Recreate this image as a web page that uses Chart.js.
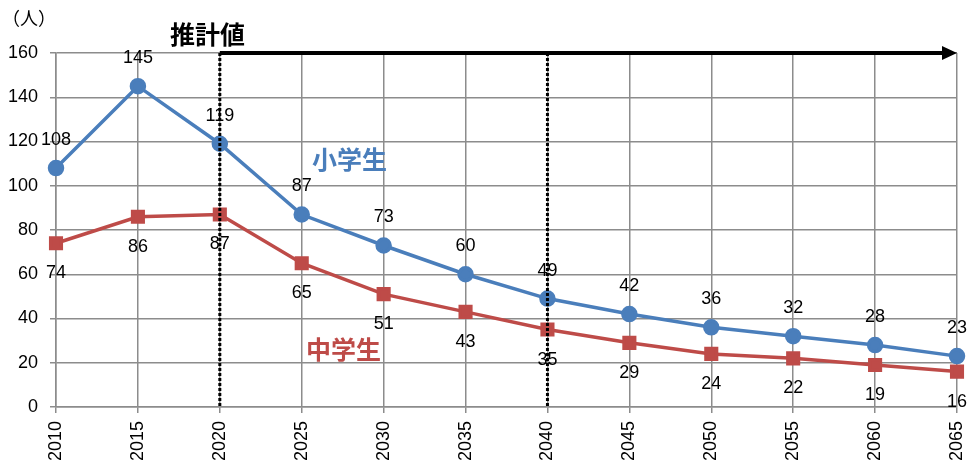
<!DOCTYPE html>
<html>
<head>
<meta charset="utf-8">
<script src="https://cdn.jsdelivr.net/npm/chart.js@4/dist/chart.umd.min.js"></script>
<style>
  html, body { margin: 0; padding: 0; background: #fff; }
  #wrap { width: 970px; height: 466px; position: relative; }
</style>
</head>
<body>
<div id="wrap"><canvas id="chart" width="970" height="466"></canvas></div>
<script>
const years = ['2010', '2015', '2020', '2025', '2030', '2035', '2040', '2045', '2050', '2055', '2060', '2065'];
const elementary = [108, 145, 119, 87, 73, 60, 49, 42, 36, 32, 28, 23];
const juniorHigh = [74, 86, 87, 65, 51, 43, 35, 29, 24, 22, 19, 16];
const yTicks = [0, 20, 40, 60, 80, 100, 120, 140, 160];
const dottedYears = ['2020', '2040'];

const colors = {
  blue: '#4A7EBB',
  red: '#BE4B48',
  grid: '#8C8C8C',
  text: '#000000'
};

const baseFont = '"Liberation Sans", "Noto Sans", sans-serif';
const jpFont = '"Noto Sans CJK JP", "Noto Sans", sans-serif';

// value labels next to every point
const valueLabels = {
  id: 'valueLabels',
  afterDatasetsDraw(chart) {
    const ctx = chart.ctx;
    ctx.save();
    ctx.font = '18px ' + baseFont;
    ctx.fillStyle = colors.text;
    ctx.textAlign = 'center';
    ctx.textBaseline = 'middle';
    chart.data.datasets.forEach((ds, i) => {
      const meta = chart.getDatasetMeta(i);
      const dy = ds.labelOffset;
      meta.data.forEach((pt, j) => {
        ctx.fillText(String(ds.data[j]), pt.x, pt.y + dy);
      });
    });
    ctx.restore();
  }
};

// dotted year markers, arrow and texts
const overlay = {
  id: 'overlay',
  afterDraw(chart) {
    const ctx = chart.ctx;
    const area = chart.chartArea;
    const x = chart.scales.x;
    ctx.save();

    ctx.strokeStyle = '#000';
    ctx.lineWidth = 3;
    ctx.setLineDash([3, 2]);
    dottedYears.forEach(yr => {
      const px = x.getPixelForValue(years.indexOf(yr));
      ctx.beginPath();
      ctx.moveTo(px, area.top);
      ctx.lineTo(px, area.bottom);
      ctx.stroke();
    });
    ctx.setLineDash([]);

    // arrow for projected values
    const startX = x.getPixelForValue(years.indexOf('2020'));
    const endX = area.right;
    ctx.lineWidth = 4;
    ctx.beginPath();
    ctx.moveTo(startX, area.top);
    ctx.lineTo(endX - 12, area.top);
    ctx.stroke();
    ctx.fillStyle = '#000';
    ctx.beginPath();
    ctx.moveTo(endX, area.top);
    ctx.lineTo(endX - 15, area.top - 7);
    ctx.lineTo(endX - 15, area.top + 7);
    ctx.closePath();
    ctx.fill();

    ctx.textBaseline = 'middle';
    ctx.textAlign = 'left';
    ctx.font = 'bold 25px ' + jpFont;
    ctx.fillText('推計値', 170, 34);

    ctx.font = '18px ' + jpFont;
    ctx.fillText('（人）', 2, 18);

    ctx.font = 'bold 25px ' + jpFont;
    ctx.fillStyle = colors.blue;
    ctx.fillText('小学生', 312, 159);
    ctx.fillStyle = colors.red;
    ctx.fillText('中学生', 306, 349);

    ctx.restore();
  }
};

new Chart(document.getElementById('chart'), {
  type: 'line',
  data: {
    labels: years,
    datasets: [
      {
        label: '小学生',
        data: elementary,
        borderColor: colors.blue,
        backgroundColor: colors.blue,
        borderWidth: 3.5,
        pointStyle: 'circle',
        pointRadius: 6.5,
        pointHoverRadius: 6.5,
        tension: 0,
        labelOffset: -28
      },
      {
        label: '中学生',
        data: juniorHigh,
        borderColor: colors.red,
        backgroundColor: colors.red,
        borderWidth: 3.5,
        pointStyle: 'rect',
        pointRadius: 7.5,
        pointHoverRadius: 7.5,
        tension: 0,
        labelOffset: 30
      }
    ]
  },
  options: {
    responsive: false,
    animation: false,
    layout: { padding: { top: 53, right: 13, left: 0, bottom: 0 } },
    plugins: {
      legend: { display: false },
      tooltip: { enabled: false },
      title: { display: false }
    },
    scales: {
      x: {
        offset: false,
        grid: { color: colors.grid, lineWidth: 1.5, tickLength: 6, drawTicks: true },
        border: { color: colors.grid, width: 1.5 },
        ticks: {
          color: colors.text,
          font: { family: baseFont, size: 18 },
          maxRotation: 90,
          minRotation: 90,
          padding: 8,
          autoSkip: false
        },
        afterFit(scale) {
          scale.height = 59;
          scale.paddingLeft = 0;
          scale.paddingRight = 0;
        }
      },
      y: {
        min: 0,
        max: 160,
        afterBuildTicks(scale) { scale.ticks = yTicks.map(v => ({ value: v })); },
        grid: { color: colors.grid, lineWidth: 1.5, tickLength: 6 },
        border: { color: colors.grid, width: 1.5 },
        ticks: {
          color: colors.text,
          font: { family: baseFont, size: 18 },
          padding: 12
        },
        afterFit(scale) {
          scale.width = 56;
          scale.paddingTop = 0;
          scale.paddingBottom = 0;
        }
      }
    }
  },
  plugins: [valueLabels, overlay]
});
</script>
</body>
</html>
